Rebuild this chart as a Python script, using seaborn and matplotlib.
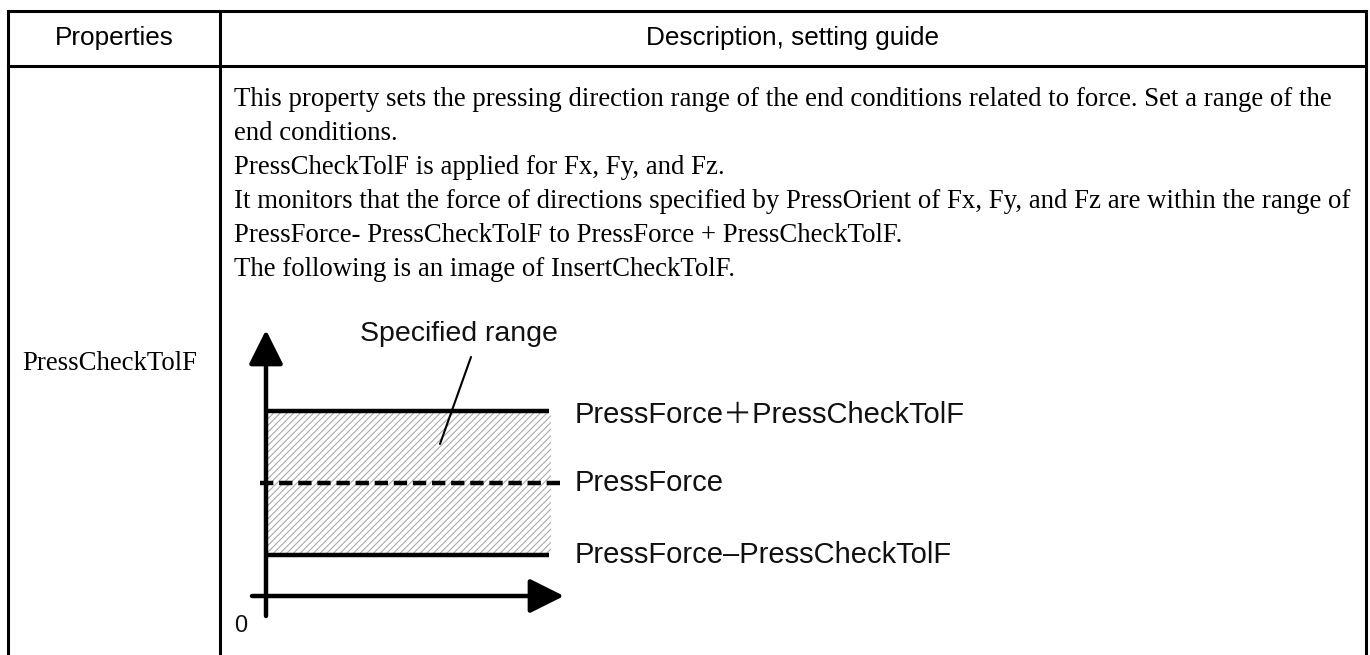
import numpy as np
import pandas as pd
import matplotlib
matplotlib.use("Agg")
import matplotlib.pyplot as plt
import seaborn as sns

# ---------------- content ----------------
header_labels = ["Properties", "Description, setting guide"]
property_name = "PressCheckTolF"
description_lines = [
    "This property sets the pressing direction range of the end conditions related to force. Set a range of the",
    "end conditions.",
    "PressCheckTolF is applied for Fx, Fy, and Fz.",
    "It monitors that the force of directions specified by PressOrient of Fx, Fy, and Fz are within the range of",
    "PressForce- PressCheckTolF to PressForce + PressCheckTolF.",
    "The following is an image of InsertCheckTolF.",
]
level_names = ["PressForce\uff0bPressCheckTolF", "PressForce", "PressForce\u2013PressCheckTolF"]
level_values = [1.0, 0.0, -1.0]
level_dashed = [False, True, False]
range_label = "Specified range"
origin_label = "0"

# ---------------- style ----------------
sns.set_theme(style="white")
plt.rcParams['font.family'] = ['Liberation Sans', 'Noto Sans CJK JP', 'DejaVu Sans']
plt.rcParams['hatch.linewidth'] = 0.8
plt.rcParams['text.color'] = 'black'

W, H = 1370, 655
fig = plt.figure(figsize=(W / 100, H / 100), dpi=100)
fig.patch.set_facecolor('white')

ax = fig.add_axes([0, 0, 1, 1])
ax.set_xlim(0, W)
ax.set_ylim(H, 0)
ax.axis('off')

# table grid
L, R, T, HB, DIV = 8, 1366, 11, 66, 220
tlw = 2.2
for y in (T, HB):
    ax.plot([L, R], [y, y], color='black', lw=tlw, solid_capstyle='projecting')
for x in (L, DIV, R):
    ax.plot([x, x], [T, H + 5], color='black', lw=tlw, solid_capstyle='projecting')

fs_head = 18.8
ax.text((L + DIV) / 2, 38.5, header_labels[0], ha='center', va='center', fontsize=fs_head,
        family=['Liberation Sans'], color='black')
ax.text((DIV + R) / 2, 38.5, header_labels[1], ha='center', va='center', fontsize=fs_head,
        family=['Liberation Sans'], color='black')

fs_body = 19.3
ax.text(22, 363, property_name, ha='left', va='center', fontsize=fs_body,
        family=['Liberation Serif'], color='black')
for i, line in enumerate(description_lines):
    ax.text(234, 100 + 34 * i, line, ha='left', va='center', fontsize=fs_body,
            family=['Liberation Serif'], color='black')

# ---------------- diagram ----------------
DL, DR, DT, DB = 240, 580, 320, 640
dax = fig.add_axes([DL / W, 1 - DB / H, (DR - DL) / W, (DB - DT) / H])
x0p, xunit = 266, 28.3     # y-axis pixel position, px per x unit
y0p, yunit = 483, 72.0     # centre level pixel position, px per level unit


def dx(p):
    return (p - x0p) / xunit


def dy(p):
    return (y0p - p) / yunit


dax.set_xlim(dx(DL), dx(DR))
dax.set_ylim(dy(DB), dy(DT))
dax.axis('off')

# hatched band between the outer levels
dax.fill_between([dx(266), dx(551)], min(level_values), max(level_values),
                 facecolor='white', edgecolor='#ababab', hatch='/////', lw=0, zorder=1)

# level lines
for name, val, dashed in zip(level_names, level_values, level_dashed):
    if dashed:
        xs = [dx(260), dx(562)]
    else:
        xs = [dx(266), dx(549)]
    df = pd.DataFrame({'t': xs, 'v': [val, val]})
    sns.lineplot(data=df, x='t', y='v', ax=dax, color='black', lw=3.2, zorder=3)
    ln = dax.lines[-1]
    ln.set_solid_capstyle('butt')
    if dashed:
        ln.set_dashes((3.0, 1.3))
    dax.text(dx(575), val + (0.0 if val != 1 else -0.06), name, ha='left', va='center',
             fontsize=21, color='#111111', clip_on=False)

# axes arrows
arrow_kw = dict(arrowstyle='-|>,head_length=1.0,head_width=0.5', lw=3.2, color='black',
                shrinkA=0, shrinkB=0, mutation_scale=21)
dax.annotate('', xy=(dx(266), dy(330)), xytext=(dx(266), dy(616)), arrowprops=arrow_kw, zorder=4)
dax.annotate('', xy=(dx(564), dy(596)), xytext=(dx(252), dy(596)), arrowprops=arrow_kw, zorder=4)

# labels
dax.text(dx(459), dy(334), range_label, ha='center', va='center', fontsize=20.5, color='#111111')
dax.plot([dx(471), dx(440)], [dy(357), dy(444)], color='black', lw=1.5, zorder=4)
dax.text(dx(241), dy(626), origin_label, ha='center', va='center', fontsize=17, color='#111111')

fig.savefig('out.png', dpi=100, facecolor='white')
